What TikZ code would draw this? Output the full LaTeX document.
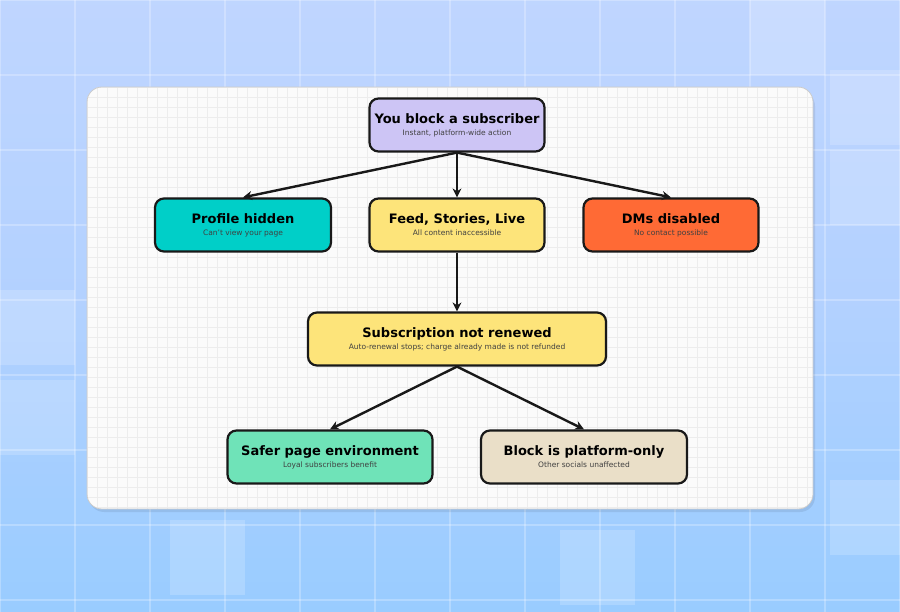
\documentclass[tikz,border=0pt]{standalone}
\usepackage{fontspec}
\setmainfont{DejaVu Sans}
\usetikzlibrary{arrows.meta}
\newcommand{\boxtitle}[1]{{\bfseries\fontsize{13}{15}\selectfont #1}}
\newcommand{\boxsub}[1]{{\fontsize{7.5}{9}\selectfont\color{black!75}#1}}
\begin{document}
\begin{tikzpicture}[x=1pt,y=-1pt,
 box/.style={draw=black!90,line width=2.2pt,rounded corners=9pt,minimum height=53pt,align=center,inner sep=0pt},
 arr/.style={line width=2.4pt,draw=black!90,-{Stealth[length=9pt,width=9pt]}}]
\useasboundingbox (0,0) rectangle (900,612);
\fill[top color=cyan!35!blue!25!white, bottom color=cyan!50!blue!40!white, middle color=cyan!40!blue!30!white] (0,0) rectangle (900,612);
\foreach \x/\y in {750/0,830/70,0/290,830/150,830/480,170/520,560/530,0/380}
  \fill[white,opacity=0.18] (\x,\y) rectangle ++(75,75);
\foreach \x in {0,75,...,900} \draw[white,opacity=0.25,line width=1.5pt] (\x,0)--(\x,612);
\foreach \y in {0,75,...,612} \draw[white,opacity=0.25,line width=1.5pt] (0,\y)--(900,\y);
\fill[black,opacity=0.08,rounded corners=15pt] (89,91) rectangle (815,512);
\begin{scope}
\clip[rounded corners=15pt] (87,87) rectangle (813,509);
\fill[white!97!gray] (87,87) rectangle (813,509);
\foreach \x in {87,97,...,813} \draw[black!7,line width=0.4pt] (\x,87)--(\x,509);
\foreach \y in {87,97,...,509} \draw[black!7,line width=0.4pt] (87,\y)--(813,\y);
\end{scope}
\draw[black!20,line width=0.8pt,rounded corners=15pt] (87,87) rectangle (813,509);
\node[box,fill={rgb,255:red,205;green,197;blue,245},minimum width=175pt] (a) at (457,125) {\boxtitle{You block a subscriber}\\\boxsub{Instant, platform-wide action}};
\node[box,fill={rgb,255:red,0;green,207;blue,200},minimum width=176pt] (b) at (243,225) {\boxtitle{Profile hidden}\\\boxsub{Can't view your page}};
\node[box,fill={rgb,255:red,253;green,228;blue,122},minimum width=175pt] (c) at (457,225) {\boxtitle{Feed, Stories, Live}\\\boxsub{All content inaccessible}};
\node[box,fill={rgb,255:red,255;green,106;blue,53},minimum width=175pt] (d) at (671,225) {\boxtitle{DMs disabled}\\\boxsub{No contact possible}};
\node[box,fill={rgb,255:red,253;green,228;blue,122},minimum width=298pt] (e) at (457,339) {\boxtitle{Subscription not renewed}\\\boxsub{Auto-renewal stops; charge already made is not refunded}};
\node[box,fill={rgb,255:red,111;green,227;blue,184},minimum width=205pt] (f) at (330,457) {\boxtitle{Safer page environment}\\\boxsub{Loyal subscribers benefit}};
\node[box,fill={rgb,255:red,234;green,223;blue,200},minimum width=206pt] (g) at (584,457) {\boxtitle{Block is platform-only}\\\boxsub{Other socials unaffected}};
\draw[arr] (a.south) -- (b.north);
\draw[arr] (a.south) -- (c.north);
\draw[arr] (a.south) -- (d.north);
\draw[arr] (c.south) -- (e.north);
\draw[arr] (e.south) -- (f.north);
\draw[arr] (e.south) -- (g.north);
\end{tikzpicture}
\end{document}
